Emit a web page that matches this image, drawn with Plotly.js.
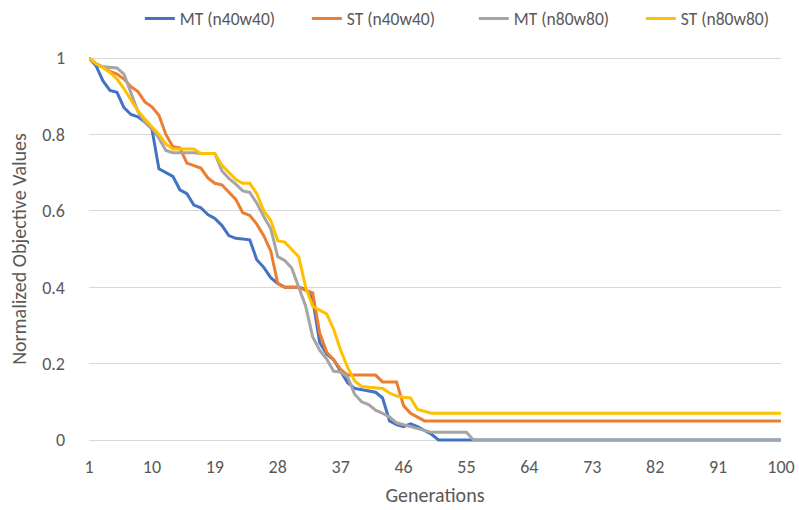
<!DOCTYPE html>
<html>
<head>
<meta charset="utf-8">
<script src="https://cdn.plot.ly/plotly-3.0.1.min.js"></script>
<style>
  html, body { margin: 0; padding: 0; background: #ffffff; }
  #chart { width: 799px; height: 510px; }
</style>
</head>
<body>
<div id="chart"></div>
<script>
// Generation numbers 1..100 (category axis)
const generations = [];
for (let g = 1; g <= 100; g++) generations.push(g);

const xTickVals = [1, 10, 19, 28, 37, 46, 55, 64, 73, 82, 91, 100];
const yTickVals = [0, 0.2, 0.4, 0.6, 0.8, 1];
const yTickText = ["0", "0.2", "0.4", "0.6", "0.8", "1"];

const seriesNames = ["MT (n40w40)", "ST (n40w40)", "MT (n80w80)", "ST (n80w80)"];
const seriesColors = ["#4472C4", "#ED7D31", "#A5A5A5", "#FFC000"];

// Normalized objective value per generation
const mtN40W40 = [
  1.00, 0.98, 0.94, 0.915, 0.91, 0.87, 0.852, 0.846, 0.832, 0.815,
  0.71, 0.70, 0.69, 0.655, 0.645, 0.615, 0.608, 0.59, 0.58, 0.562,
  0.535, 0.528, 0.526, 0.524, 0.472, 0.452, 0.425, 0.41, 0.40, 0.40,
  0.40, 0.395, 0.37, 0.255, 0.225, 0.21, 0.18, 0.15, 0.135, 0.132,
  0.13, 0.125, 0.11, 0.05, 0.04, 0.035, 0.042, 0.035, 0.025, 0.015,
  0, 0, 0, 0, 0, 0, 0, 0, 0, 0,
  0, 0, 0, 0, 0, 0, 0, 0, 0, 0,
  0, 0, 0, 0, 0, 0, 0, 0, 0, 0,
  0, 0, 0, 0, 0, 0, 0, 0, 0, 0,
  0, 0, 0, 0, 0, 0, 0, 0, 0, 0
];

const stN40W40 = [
  1.00, 0.985, 0.975, 0.965, 0.958, 0.945, 0.925, 0.912, 0.885, 0.872,
  0.85, 0.80, 0.768, 0.765, 0.725, 0.718, 0.712, 0.686, 0.672, 0.668,
  0.65, 0.63, 0.595, 0.588, 0.565, 0.535, 0.495, 0.41, 0.40, 0.40,
  0.40, 0.392, 0.385, 0.28, 0.23, 0.21, 0.185, 0.17, 0.17, 0.17,
  0.17, 0.17, 0.152, 0.152, 0.152, 0.09, 0.07, 0.06, 0.05, 0.05,
  0.05, 0.05, 0.05, 0.05, 0.05, 0.05, 0.05, 0.05, 0.05, 0.05,
  0.05, 0.05, 0.05, 0.05, 0.05, 0.05, 0.05, 0.05, 0.05, 0.05,
  0.05, 0.05, 0.05, 0.05, 0.05, 0.05, 0.05, 0.05, 0.05, 0.05,
  0.05, 0.05, 0.05, 0.05, 0.05, 0.05, 0.05, 0.05, 0.05, 0.05,
  0.05, 0.05, 0.05, 0.05, 0.05, 0.05, 0.05, 0.05, 0.05, 0.05
];

const mtN80W80 = [
  1.00, 0.985, 0.977, 0.975, 0.974, 0.958, 0.91, 0.86, 0.832, 0.817,
  0.79, 0.758, 0.752, 0.752, 0.752, 0.752, 0.75, 0.75, 0.75, 0.705,
  0.685, 0.67, 0.652, 0.648, 0.62, 0.585, 0.553, 0.48, 0.47, 0.45,
  0.40, 0.35, 0.27, 0.235, 0.212, 0.18, 0.178, 0.165, 0.12, 0.10,
  0.093, 0.078, 0.07, 0.06, 0.045, 0.04, 0.035, 0.03, 0.025, 0.02,
  0.02, 0.02, 0.02, 0.02, 0.02, 0, 0, 0, 0, 0,
  0, 0, 0, 0, 0, 0, 0, 0, 0, 0,
  0, 0, 0, 0, 0, 0, 0, 0, 0, 0,
  0, 0, 0, 0, 0, 0, 0, 0, 0, 0,
  0, 0, 0, 0, 0, 0, 0, 0, 0, 0
];

const stN80W80 = [
  1.00, 0.985, 0.975, 0.962, 0.945, 0.92, 0.89, 0.862, 0.84, 0.82,
  0.80, 0.775, 0.762, 0.762, 0.762, 0.762, 0.75, 0.75, 0.75, 0.72,
  0.70, 0.682, 0.672, 0.672, 0.645, 0.60, 0.575, 0.522, 0.518, 0.50,
  0.48, 0.40, 0.35, 0.34, 0.33, 0.29, 0.235, 0.19, 0.155, 0.14,
  0.138, 0.137, 0.135, 0.123, 0.115, 0.112, 0.11, 0.08, 0.075, 0.07,
  0.07, 0.07, 0.07, 0.07, 0.07, 0.07, 0.07, 0.07, 0.07, 0.07,
  0.07, 0.07, 0.07, 0.07, 0.07, 0.07, 0.07, 0.07, 0.07, 0.07,
  0.07, 0.07, 0.07, 0.07, 0.07, 0.07, 0.07, 0.07, 0.07, 0.07,
  0.07, 0.07, 0.07, 0.07, 0.07, 0.07, 0.07, 0.07, 0.07, 0.07,
  0.07, 0.07, 0.07, 0.07, 0.07, 0.07, 0.07, 0.07, 0.07, 0.07
];

const seriesValues = [mtN40W40, stN40W40, mtN80W80, stN80W80];

const fontFamily = "Carlito, Calibri, Lato, 'Open Sans', sans-serif";
const textColor = "#595959";

const traces = seriesValues.map((vals, i) => ({
  type: "scatter",
  mode: "lines",
  name: seriesNames[i],
  x: generations,
  y: vals,
  line: { color: seriesColors[i], width: 3, shape: "linear" },
  hoverinfo: "x+y+name"
}));

const layout = {
  width: 799,
  height: 510,
  paper_bgcolor: "#ffffff",
  plot_bgcolor: "#ffffff",
  margin: { l: 89, r: 18, t: 55, b: 67, pad: 0 },
  font: { family: fontFamily, size: 17, color: textColor },
  showlegend: true,
  legend: {
    orientation: "h",
    xref: "container",
    yref: "container",
    x: 0.175,
    xanchor: "left",
    y: 0.999,
    yanchor: "top",
    font: { family: fontFamily, size: 17.5, color: textColor },
    entrywidth: 122,
    entrywidthmode: "pixels",
    bgcolor: "rgba(0,0,0,0)"
  },
  xaxis: {
    type: "linear",
    range: [1, 100],
    tickmode: "array",
    tickvals: xTickVals,
    ticktext: xTickVals.map(String),
    showgrid: false,
    zeroline: false,
    showline: false,
    ticks: "",
    ticklabelstandoff: 11,
    tickfont: { family: fontFamily, size: 18, color: textColor },
    title: {
      text: "Generations",
      font: { family: fontFamily, size: 20, color: textColor },
      standoff: 10
    },
    fixedrange: true
  },
  yaxis: {
    range: [-0.00785, 1.00785],
    tickmode: "array",
    tickvals: yTickVals,
    ticktext: yTickText,
    showgrid: true,
    gridcolor: "#D9D9D9",
    gridwidth: 1,
    zeroline: false,
    showline: false,
    ticks: "",
    ticklabelstandoff: 23,
    tickfont: { family: fontFamily, size: 18, color: textColor },
    title: {
      text: "Normalized Objective Values",
      font: { family: fontFamily, size: 20, color: textColor },
      standoff: 10
    },
    fixedrange: true
  }
};

Plotly.newPlot("chart", traces, layout, { displayModeBar: false, staticPlot: true });
</script>
</body>
</html>
